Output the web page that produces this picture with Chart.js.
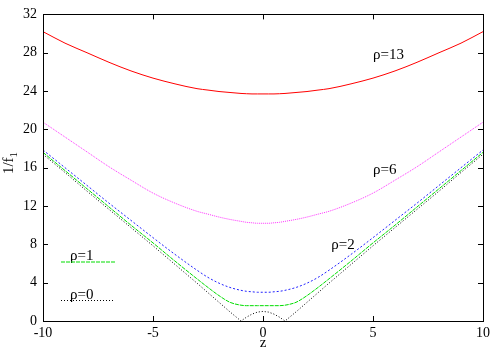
<!DOCTYPE html>
<html>
<head>
<meta charset="utf-8">
<script src="https://cdn.jsdelivr.net/npm/chart.js@4/dist/chart.umd.min.js"></script>
<style>
  html, body { margin: 0; padding: 0; background: #fff; }
  #wrap { width: 500px; height: 350px; }
</style>
</head>
<body>
<div id="wrap"><canvas id="c" width="500" height="350"></canvas></div>
<script>
const zVals = [-10, -9, -8, -7, -6, -5, -4, -3, -2.5, -2, -1.5, -1, -0.75, -0.5, -0.25, 0,
  0.25, 0.5, 0.75, 1, 1.5, 2, 2.5, 3, 4, 5, 6, 7, 8, 9, 10];

const rho13 = [30.2, 29.0, 28.0, 27.0, 26.1, 25.35, 24.75, 24.25, 24.1, 23.95, 23.85, 23.75, 23.72, 23.7, 23.7, 23.7,
  23.7, 23.7, 23.72, 23.75, 23.85, 23.95, 24.1, 24.25, 24.75, 25.35, 26.1, 27.0, 28.0, 29.0, 30.2];
const rho6 = [20.75, 19.2, 17.65, 16.1, 14.7, 13.35, 12.3, 11.45, 11.15, 10.85, 10.6, 10.4, 10.3, 10.25, 10.2, 10.2,
  10.2, 10.25, 10.3, 10.4, 10.6, 10.85, 11.15, 11.45, 12.3, 13.35, 14.7, 16.1, 17.65, 19.2, 20.75];
const rho2 = [17.85, 16.0, 14.15, 12.3, 10.5, 8.7, 6.95, 5.3, 4.55, 3.95, 3.5, 3.2, 3.1, 3.05, 3.0, 3.0,
  3.0, 3.05, 3.1, 3.2, 3.5, 3.95, 4.55, 5.3, 6.95, 8.7, 10.5, 12.3, 14.15, 16.0, 17.85];
const rho1 = [17.6, 15.7, 13.8, 11.9, 10.0, 8.15, 6.25, 4.4, 3.5, 2.65, 1.95, 1.65, 1.6, 1.6, 1.6, 1.6,
  1.6, 1.6, 1.6, 1.65, 1.95, 2.65, 3.5, 4.4, 6.25, 8.15, 10.0, 11.9, 13.8, 15.7, 17.6];
const rho0 = [17.4, 15.5, 13.55, 11.65, 9.75, 7.85, 5.9, 3.95, 2.95, 1.95, 0.95, 0, 0.4, 0.72, 0.93, 1.0,
  0.93, 0.72, 0.4, 0, 0.95, 1.95, 2.95, 3.95, 5.9, 7.85, 9.75, 11.65, 13.55, 15.5, 17.4];

const xTicks = [-10, -5, 0, 5, 10];
const yTicks = [0, 4, 8, 12, 16, 20, 24, 28, 32];

const SERIF = '"Liberation Serif", "Times New Roman", serif';

function pts(ys) {
  return zVals.map((z, i) => ({ x: z, y: ys[i] }));
}

// frame, inside ticks, curve labels, key and axis titles (gnuplot look)
const gnuplotLook = {
  id: 'gnuplotLook',
  afterDraw(chart) {
    const ctx = chart.ctx;
    const a = chart.chartArea;
    const xs = chart.scales.x, ys = chart.scales.y;
    ctx.save();
    ctx.strokeStyle = '#000';
    ctx.lineWidth = 1;
    ctx.setLineDash([]);
    ctx.strokeRect(Math.round(a.left) + 0.5, Math.round(a.top) + 0.5,
      Math.round(a.right - a.left), Math.round(a.bottom - a.top));

    const t = 5;
    ctx.beginPath();
    xTicks.forEach(v => {
      const px = Math.round(xs.getPixelForValue(v)) + 0.5;
      ctx.moveTo(px, a.bottom); ctx.lineTo(px, a.bottom - t);
      ctx.moveTo(px, a.top); ctx.lineTo(px, a.top + t);
    });
    yTicks.forEach(v => {
      const py = Math.round(ys.getPixelForValue(v)) + 0.5;
      ctx.moveTo(a.left, py); ctx.lineTo(a.left + t, py);
      ctx.moveTo(a.right, py); ctx.lineTo(a.right - t, py);
    });
    ctx.stroke();

    ctx.fillStyle = '#000';
    ctx.font = '15px ' + SERIF;
    ctx.textBaseline = 'middle';
    ctx.textAlign = 'left';
    ctx.fillText('ρ=13', xs.getPixelForValue(5), ys.getPixelForValue(27.8));
    ctx.fillText('ρ=6', xs.getPixelForValue(5), ys.getPixelForValue(15.8));
    ctx.fillText('ρ=2', xs.getPixelForValue(3.1), ys.getPixelForValue(7.9));

    // key
    const keys = [
      { text: 'ρ=1', color: '#00dd00', dash: [4, 1], y: 262 },
      { text: 'ρ=0', color: '#000', dash: [1, 2], y: 300.5 }
    ];
    keys.forEach(k => {
      ctx.textBaseline = 'alphabetic';
      ctx.fillStyle = '#000';
      ctx.fillText(k.text, 70, k.y - 2);
      ctx.strokeStyle = k.color;
      ctx.setLineDash(k.dash);
      ctx.beginPath();
      ctx.moveTo(61, k.y); ctx.lineTo(115, k.y);
      ctx.stroke();
    });
    ctx.setLineDash([]);

    // axis titles
    ctx.fillStyle = '#000';
    ctx.font = '15px ' + SERIF;
    ctx.textAlign = 'center';
    ctx.textBaseline = 'middle';
    ctx.fillText('z', (a.left + a.right) / 2, 343);

    ctx.translate(9, 163);
    ctx.rotate(-Math.PI / 2);
    ctx.textAlign = 'left';
    const main = '1/f';
    const w = ctx.measureText(main).width;
    ctx.font = '11px ' + SERIF;
    const ws = ctx.measureText('1').width;
    const start = -(w + ws) / 2;
    ctx.font = '15px ' + SERIF;
    ctx.fillText(main, start, 0);
    ctx.font = '11px ' + SERIF;
    ctx.fillText('1', start + w, 5);
    ctx.restore();
  }
};

new Chart(document.getElementById('c'), {
  type: 'line',
  data: {
    datasets: [
      { label: 'ρ=13', data: pts(rho13), borderColor: '#ff0000', borderWidth: 1, cubicInterpolationMode: 'monotone' },
      { label: 'ρ=6', data: pts(rho6), borderColor: '#ff33ff', borderWidth: 1, borderDash: [1, 1], cubicInterpolationMode: 'monotone' },
      { label: 'ρ=2', data: pts(rho2), borderColor: '#2222ff', borderWidth: 1, borderDash: [2, 2], cubicInterpolationMode: 'monotone' },
      { label: 'ρ=1', data: pts(rho1), borderColor: '#00dd00', borderWidth: 1, borderDash: [4, 1], cubicInterpolationMode: 'monotone' },
      { label: 'ρ=0', data: pts(rho0), borderColor: '#000000', borderWidth: 1, borderDash: [1, 2], tension: 0 }
    ]
  },
  options: {
    responsive: false,
    animation: false,
    devicePixelRatio: 1,
    layout: { padding: { top: 11, right: 17, left: 0, bottom: 0 } },
    elements: { point: { radius: 0 } },
    plugins: {
      legend: { display: false },
      tooltip: { enabled: false }
    },
    scales: {
      x: {
        type: 'linear',
        min: -10,
        max: 10,
        afterFit: s => { s.height = 29; },
        afterBuildTicks: s => { s.ticks = xTicks.map(v => ({ value: v })); },
        grid: { display: false, drawTicks: false },
        border: { display: false },
        ticks: { color: '#000', font: { family: SERIF, size: 14 }, padding: 4, maxRotation: 0 }
      },
      y: {
        min: 0,
        max: 32,
        afterFit: s => { s.width = 43; },
        afterBuildTicks: s => { s.ticks = yTicks.map(v => ({ value: v })); },
        grid: { display: false, drawTicks: false },
        border: { display: false },
        ticks: { color: '#000', font: { family: SERIF, size: 14 }, padding: 6 }
      }
    }
  },
  plugins: [gnuplotLook]
});
</script>
</body>
</html>
